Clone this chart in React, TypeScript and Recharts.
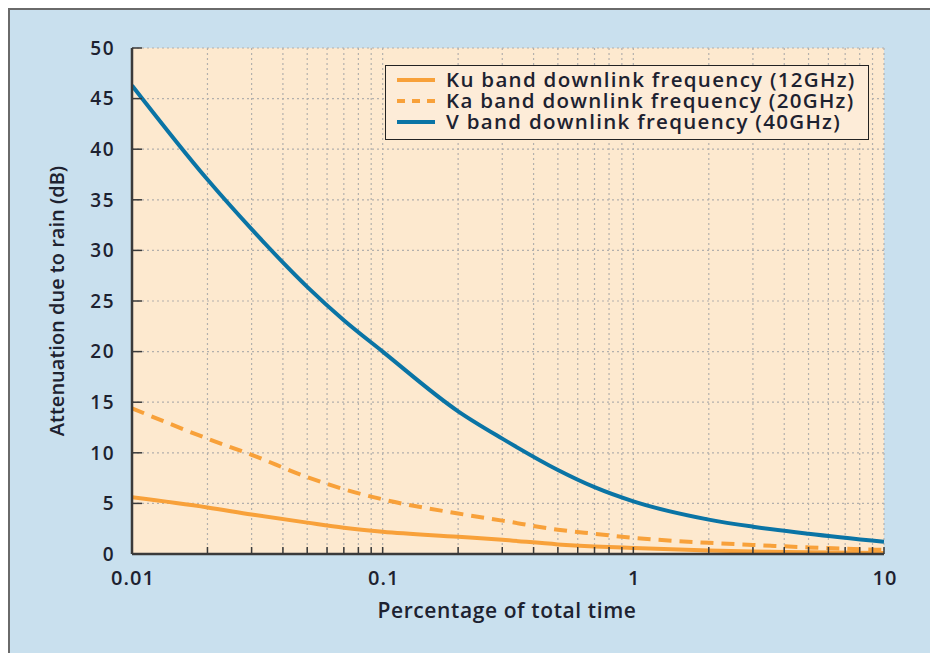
import {
  CartesianGrid,
  Legend,
  Line,
  LineChart,
  XAxis,
  YAxis,
} from "recharts";

// percentage of total time (log axis)
const tempo = [0.01, 0.02, 0.03, 0.05, 0.07, 0.1, 0.2, 0.3, 0.5, 0.7, 1, 2, 3, 5, 10];
const kuBanda = [5.6, 4.6, 3.9, 3.1, 2.6, 2.2, 1.7, 1.4, 0.95, 0.75, 0.6, 0.35, 0.25, 0.18, 0.1];
const kaBanda = [14.4, 11.4, 9.8, 7.6, 6.4, 5.4, 4.0, 3.3, 2.4, 2.0, 1.6, 1.1, 0.9, 0.65, 0.4];
const vBanda = [46.3, 37.0, 32.1, 26.4, 23.1, 20.0, 14.1, 11.4, 8.3, 6.6, 5.2, 3.4, 2.7, 2.0, 1.2];

const ticksX = [
  0.01, 0.02, 0.03, 0.04, 0.05, 0.06, 0.07, 0.08, 0.09,
  0.1, 0.2, 0.3, 0.4, 0.5, 0.6, 0.7, 0.8, 0.9,
  1, 2, 3, 4, 5, 6, 7, 8, 9, 10,
];
const ticksY = [0, 5, 10, 15, 20, 25, 30, 35, 40, 45, 50];

const series = [
  { key: "ku", nome: "Ku band downlink frequency (12GHz)", cor: "#f8a13a", dash: undefined },
  { key: "ka", nome: "Ka band downlink frequency (20GHz)", cor: "#f8a13a", dash: "13 8" },
  { key: "v", nome: "V band downlink frequency (40GHz)", cor: "#0a74a5", dash: undefined },
];

const dados = tempo.map((t, i) => ({
  t,
  ku: kuBanda[i],
  ka: kaBanda[i],
  v: vBanda[i],
}));

// sem barras de rolagem na página
if (typeof document !== "undefined") {
  document.documentElement.style.overflow = "hidden";
  document.body.style.overflow = "hidden";
}

const FONTE = '"Open Sans", sans-serif';
const TEXTO = "#1d2230";
const EIXO = "#3a3a3a";

const isDecada = (v: number) =>
  Math.abs(Math.log10(v) - Math.round(Math.log10(v))) < 1e-6;

const TickBaixo = ({ x, y, payload }: any) => (
  <g>
    <line x1={x} x2={x} y1={y} y2={y - 7} stroke={EIXO} strokeWidth={1.5} />
    {isDecada(payload.value) && (
      <text x={x + 1} y={y + 31} textAnchor="middle" fontFamily={FONTE} fontWeight={600} fontSize={20} letterSpacing={1} fill={TEXTO}>
        {String(payload.value)}
      </text>
    )}
  </g>
);

const TickTopo = ({ x, y }: any) => (
  <line x1={x} x2={x} y1={y} y2={y + 7} stroke={EIXO} strokeWidth={1.5} />
);

const TickEsq = ({ x, y, payload }: any) => (
  <g>
    <line x1={x} x2={x + 10} y1={y} y2={y} stroke={EIXO} strokeWidth={1.5} />
    <text x={x - 17} y={y} dy="0.36em" textAnchor="end" fontFamily={FONTE} fontWeight={600} fontSize={19} letterSpacing={1.5} fill={TEXTO}>
      {payload.value}
    </text>
  </g>
);

const TickDir = ({ x, y }: any) => (
  <line x1={x} x2={x - 10} y1={y} y2={y} stroke={EIXO} strokeWidth={1.5} />
);

const Legenda = () => (
  <div
    style={{
      background: "#fdecd8",
      border: "1.5px solid #222",
      padding: "3px 12px 7px 11px",
      fontFamily: FONTE,
      fontWeight: 600,
      fontSize: 20.5,
      letterSpacing: 1.3,
      color: TEXTO,
      lineHeight: "21px",
      whiteSpace: "nowrap",
    }}
  >
    {series.map((s) => (
      <div key={s.key} style={{ display: "flex", alignItems: "center" }}>
        <svg width={38} height={10} style={{ marginRight: 11 }}>
          <line x1={0} x2={38} y1={5} y2={5} stroke={s.cor} strokeWidth={4} strokeDasharray={s.dash ? "8 7" : undefined} />
        </svg>
        <span>{s.nome}</span>
      </div>
    ))}
  </div>
);

const App = () => {
  return (
    <div
      style={{
        position: "fixed",
        left: 8,
        top: 8,
        width: 920,
        height: 643,
        background: "#c9e0ee",
        borderTop: "2px solid #6a6a6a",
        borderLeft: "2px solid #6a6a6a",
      }}
    >
      <LineChart width={920} height={643} data={dados} margin={{ top: 38, right: 46, bottom: 0, left: 0 }}>
        <CartesianGrid
          fill="#fde9cf"
          fillOpacity={1}
          stroke="#b3b0ad"
          strokeDasharray="2 3"
          strokeWidth={1.2}
        />
        <XAxis
          dataKey="t"
          type="number"
          scale="log"
          domain={[0.01, 10]}
          ticks={ticksX}
          interval={0}
          allowDataOverflow
          height={99}
          tickSize={0}
          tickMargin={0}
          tick={<TickBaixo />}
          axisLine={{ stroke: EIXO, strokeWidth: 2.5 }}
          label={{
            content: ({ viewBox }: any) => (
              <text
                x={viewBox.x + viewBox.width / 2 - 1}
                y={608}
                textAnchor="middle"
                fontFamily={FONTE}
                fontWeight={600}
                fontSize={21}
                letterSpacing={0.6}
                fill={TEXTO}
              >
                Percentage of total time
              </text>
            ),
          }}
        />
        <XAxis
          xAxisId="topo"
          orientation="top"
          dataKey="t"
          type="number"
          scale="log"
          domain={[0.01, 10]}
          ticks={ticksX}
          interval={0}
          allowDataOverflow
          height={0}
          tickSize={0}
          tickMargin={0}
          tick={<TickTopo />}
          axisLine={{ stroke: "#777", strokeWidth: 1.5 }}
        />
        <YAxis
          type="number"
          domain={[0, 50]}
          ticks={ticksY}
          interval={0}
          width={122}
          tickSize={0}
          tickMargin={0}
          tick={<TickEsq />}
          axisLine={{ stroke: EIXO, strokeWidth: 2.5 }}
          label={{
            content: ({ viewBox }: any) => (
              <text
                x={46}
                y={viewBox.y + viewBox.height / 2}
                transform={`rotate(-90 46 ${viewBox.y + viewBox.height / 2})`}
                textAnchor="middle"
                dominantBaseline="central"
                fontFamily={FONTE}
                fontWeight={600}
                fontSize={20}
                fill={TEXTO}
              >
                Attenuation due to rain (dB)
              </text>
            ),
          }}
        />
        <YAxis
          yAxisId="dir"
          orientation="right"
          type="number"
          domain={[0, 50]}
          ticks={ticksY}
          interval={0}
          width={0}
          tickSize={0}
          tickMargin={0}
          tick={<TickDir />}
          axisLine={{ stroke: "#777", strokeWidth: 2 }}
        />
        <Legend
          layout="vertical"
          align="center"
          verticalAlign="middle"
          content={<Legenda />}
          wrapperStyle={{ position: "absolute", left: 375, top: 55, width: "auto" }}
        />
        {series.map((s) => (
          <Line
            key={s.key}
            type="monotone"
            dataKey={s.key}
            name={s.nome}
            stroke={s.cor}
            strokeWidth={4}
            strokeDasharray={s.dash}
            dot={false}
            isAnimationActive={false}
          />
        ))}
      </LineChart>
    </div>
  );
};

export default App;
